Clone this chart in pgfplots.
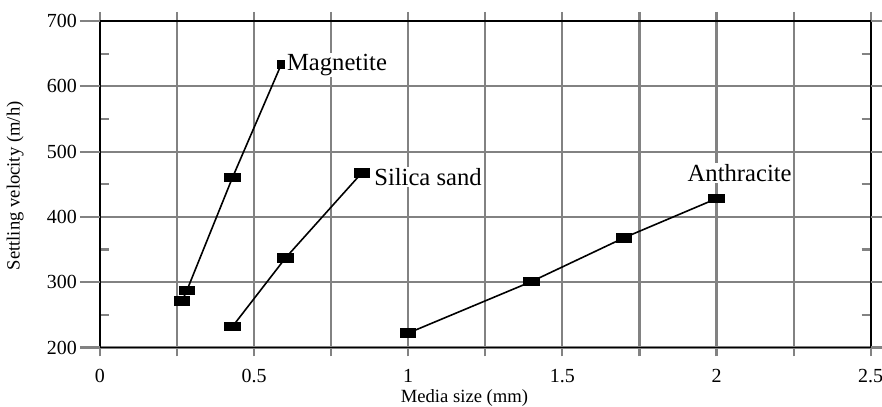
\documentclass[border=0pt]{standalone}
\usepackage{fontspec}
\setmainfont{Liberation Serif}
\usepackage{pgfplots}
\pgfplotsset{compat=1.18}
\definecolor{gridgray}{RGB}{130,130,130}
\begin{document}
\begin{tikzpicture}
\begin{axis}[
  scale only axis,
  width=579pt, height=245.25pt,
  xmin=0, xmax=2.5, ymin=200, ymax=700,
  xtick={0,0.25,...,2.5},
  xticklabels={0,,0.5,,1,,1.5,,2,,2.5},
  ytick={200,300,...,700},
  minor ytick={250,350,...,650},
  grid=major,
  major grid style={gridgray, line width=1.6pt},
  tick style={gridgray, line width=1.6pt},
  tick align=outside,
  major tick length=6.75pt,
  minor tick length=-6.75pt,
  extra y ticks={200,300,...,700},
  extra y tick labels={},
  extra y tick style={major tick length=15pt, grid=none},
  axis line style={black, line width=1.4pt},
  tick label style={font=\fontsize{15}{18}\selectfont},
  /pgf/number format/assume math mode=true,
  xticklabel style={yshift=-6pt},
  yticklabel style={xshift=-7pt},
  xlabel={Media size (mm)},
  ylabel={Settling velocity (m/h)},
  label style={font=\fontsize{14}{17}\selectfont},
  x label style={at={(axis description cs:0.473,-0.114)}, anchor=north},
  y label style={at={(axis description cs:-0.110,0.495)}, anchor=center},
  clip=false,
]
\addplot[black, line width=1.2pt, mark=square*, mark size=3pt,
  mark options={xscale=1.875}, mark indices={1,2,3}]
  coordinates {(0.266,271) (0.282,287) (0.43,460) (0.588,633)};
\addplot[only marks, black, mark=square*, mark size=3pt, mark options={xscale=0.9}]
  coordinates {(0.588,633)};
\addplot[black, line width=1.2pt, mark=square*, mark size=3pt, mark options={xscale=1.875}]
  coordinates {(0.43,232) (0.602,337) (0.85,467.6)};
\addplot[black, line width=1.2pt, mark=square*, mark size=3pt, mark options={xscale=1.875}]
  coordinates {(1.0,222) (1.40,301) (1.70,368) (2.0,428)};
\node[anchor=west, fill=white, inner sep=1pt, font=\fontsize{18.5}{22}\selectfont] at (axis cs:0.602,633) {Magnetite};
\node[anchor=west, fill=white, inner sep=1pt, font=\fontsize{18.5}{22}\selectfont] at (axis cs:0.885,461.5) {Silica sand};
\node[anchor=center, fill=white, inner sep=1pt, font=\fontsize{18.5}{22}\selectfont] at (axis cs:2.075,467.6) {Anthracite};
\end{axis}
\pgfresetboundingbox
\path ([shift={(-75pt,-44.25pt)}]current axis.south west) rectangle ([shift={(8.5pt,15.75pt)}]current axis.north east);
\end{tikzpicture}
\end{document}
